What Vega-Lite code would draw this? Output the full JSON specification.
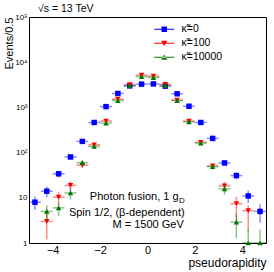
{
  "$schema": "https://vega.github.io/schema/vega-lite/v6.json",
  "width": 237,
  "height": 226,
  "autosize": {"type": "none"},
  "padding": {"left": 29, "top": 17, "right": 8, "bottom": 29},
  "config": {
    "font": "Liberation Sans",
    "view": {"stroke": null},
    "axis": {"domainColor": "#000", "tickColor": "#000", "labelColor": "#000", "titleColor": "#000", "grid": false, "titleFontWeight": "normal", "labelFont": "Liberation Sans", "titleFont": "Liberation Sans", "tickSize": 0, "domainWidth": 1, "tickWidth": 1}
  },
  "data": {"values": [
    {"s": "κ̃=0", "eta": -4.75, "xlo": -5.0, "xhi": -4.5, "v": 8, "lo": 5.4, "hi": 10.8},
    {"s": "κ̃=0", "eta": -4.25, "xlo": -4.5, "xhi": -4.0, "v": 14, "lo": 10.3, "hi": 17.7},
    {"s": "κ̃=0", "eta": -3.75, "xlo": -4.0, "xhi": -3.5, "v": 34, "lo": 28.2, "hi": 39.8},
    {"s": "κ̃=0", "eta": -3.25, "xlo": -3.5, "xhi": -3.0, "v": 80, "lo": 71, "hi": 89},
    {"s": "κ̃=0", "eta": -2.75, "xlo": -3.0, "xhi": -2.5, "v": 177, "lo": 164, "hi": 190},
    {"s": "κ̃=0", "eta": -2.25, "xlo": -2.5, "xhi": -2.0, "v": 464, "lo": 442, "hi": 486},
    {"s": "κ̃=0", "eta": -1.75, "xlo": -2.0, "xhi": -1.5, "v": 1040, "lo": 1008, "hi": 1072},
    {"s": "κ̃=0", "eta": -1.25, "xlo": -1.5, "xhi": -1.0, "v": 2030, "lo": 1985, "hi": 2075},
    {"s": "κ̃=0", "eta": -0.75, "xlo": -1.0, "xhi": -0.5, "v": 3000, "lo": 2945, "hi": 3055},
    {"s": "κ̃=0", "eta": -0.25, "xlo": -0.5, "xhi": 0.0, "v": 3270, "lo": 3213, "hi": 3327},
    {"s": "κ̃=0", "eta": 0.25, "xlo": 0.0, "xhi": 0.5, "v": 3310, "lo": 3252, "hi": 3368},
    {"s": "κ̃=0", "eta": 0.75, "xlo": 0.5, "xhi": 1.0, "v": 2950, "lo": 2896, "hi": 3004},
    {"s": "κ̃=0", "eta": 1.25, "xlo": 1.0, "xhi": 1.5, "v": 2000, "lo": 1955, "hi": 2045},
    {"s": "κ̃=0", "eta": 1.75, "xlo": 1.5, "xhi": 2.0, "v": 1060, "lo": 1027, "hi": 1093},
    {"s": "κ̃=0", "eta": 2.25, "xlo": 2.0, "xhi": 2.5, "v": 464, "lo": 442, "hi": 486},
    {"s": "κ̃=0", "eta": 2.75, "xlo": 2.5, "xhi": 3.0, "v": 206, "lo": 192, "hi": 220},
    {"s": "κ̃=0", "eta": 3.25, "xlo": 3.0, "xhi": 3.5, "v": 59, "lo": 51.3, "hi": 66.7},
    {"s": "κ̃=0", "eta": 3.75, "xlo": 3.5, "xhi": 4.0, "v": 31, "lo": 25.4, "hi": 36.6},
    {"s": "κ̃=0", "eta": 4.25, "xlo": 4.0, "xhi": 4.5, "v": 11, "lo": 7.7, "hi": 14.3},
    {"s": "κ̃=0", "eta": 4.75, "xlo": 4.5, "xhi": 5.0, "v": 5, "lo": 2.8, "hi": 7.2},
    {"s": "κ̃=100", "eta": -4.25, "xlo": -4.5, "xhi": -4.0, "v": 3, "lo": 1.2, "hi": 4.7},
    {"s": "κ̃=100", "eta": -3.75, "xlo": -4.0, "xhi": -3.5, "v": 10.3, "lo": 7, "hi": 13.5},
    {"s": "κ̃=100", "eta": -3.25, "xlo": -3.5, "xhi": -3.0, "v": 18.8, "lo": 14.5, "hi": 23},
    {"s": "κ̃=100", "eta": -2.75, "xlo": -3.0, "xhi": -2.5, "v": 53, "lo": 45.7, "hi": 60.3},
    {"s": "κ̃=100", "eta": -2.25, "xlo": -2.5, "xhi": -2.0, "v": 149, "lo": 137, "hi": 161},
    {"s": "κ̃=100", "eta": -1.75, "xlo": -2.0, "xhi": -1.5, "v": 498, "lo": 476, "hi": 520},
    {"s": "κ̃=100", "eta": -1.25, "xlo": -1.5, "xhi": -1.0, "v": 1516, "lo": 1477, "hi": 1555},
    {"s": "κ̃=100", "eta": -0.75, "xlo": -1.0, "xhi": -0.5, "v": 3200, "lo": 3143, "hi": 3257},
    {"s": "κ̃=100", "eta": -0.25, "xlo": -0.5, "xhi": 0.0, "v": 5160, "lo": 5088, "hi": 5232},
    {"s": "κ̃=100", "eta": 0.25, "xlo": 0.0, "xhi": 0.5, "v": 4900, "lo": 4830, "hi": 4970},
    {"s": "κ̃=100", "eta": 0.75, "xlo": 0.5, "xhi": 1.0, "v": 3250, "lo": 3193, "hi": 3307},
    {"s": "κ̃=100", "eta": 1.25, "xlo": 1.0, "xhi": 1.5, "v": 1450, "lo": 1412, "hi": 1488},
    {"s": "κ̃=100", "eta": 1.75, "xlo": 1.5, "xhi": 2.0, "v": 498, "lo": 476, "hi": 520},
    {"s": "κ̃=100", "eta": 2.25, "xlo": 2.0, "xhi": 2.5, "v": 168, "lo": 155, "hi": 181},
    {"s": "κ̃=100", "eta": 2.75, "xlo": 2.5, "xhi": 3.0, "v": 50.6, "lo": 43.5, "hi": 57.7},
    {"s": "κ̃=100", "eta": 3.25, "xlo": 3.0, "xhi": 3.5, "v": 18.3, "lo": 14, "hi": 22.6},
    {"s": "κ̃=100", "eta": 3.75, "xlo": 3.5, "xhi": 4.0, "v": 7.4, "lo": 3.2, "hi": 10.5},
    {"s": "κ̃=100", "eta": 4.25, "xlo": 4.0, "xhi": 4.5, "v": 5.2, "lo": 1.8, "hi": 6.8},
    {"s": "κ̃=10000", "eta": -4.25, "xlo": -4.5, "xhi": -4.0, "v": 5, "lo": 3.0, "hi": 6.8},
    {"s": "κ̃=10000", "eta": -3.75, "xlo": -4.0, "xhi": -3.5, "v": 6, "lo": 3.9, "hi": 7.9},
    {"s": "κ̃=10000", "eta": -3.25, "xlo": -3.5, "xhi": -3.0, "v": 12.8, "lo": 9.2, "hi": 16.4},
    {"s": "κ̃=10000", "eta": -2.75, "xlo": -3.0, "xhi": -2.5, "v": 60, "lo": 52, "hi": 68},
    {"s": "κ̃=10000", "eta": -2.25, "xlo": -2.5, "xhi": -2.0, "v": 137, "lo": 125, "hi": 149},
    {"s": "κ̃=10000", "eta": -1.75, "xlo": -2.0, "xhi": -1.5, "v": 450, "lo": 429, "hi": 471},
    {"s": "κ̃=10000", "eta": -1.25, "xlo": -1.5, "xhi": -1.0, "v": 1420, "lo": 1382, "hi": 1458},
    {"s": "κ̃=10000", "eta": -0.75, "xlo": -1.0, "xhi": -0.5, "v": 3000, "lo": 2945, "hi": 3055},
    {"s": "κ̃=10000", "eta": -0.25, "xlo": -0.5, "xhi": 0.0, "v": 4800, "lo": 4731, "hi": 4869},
    {"s": "κ̃=10000", "eta": 0.25, "xlo": 0.0, "xhi": 0.5, "v": 4570, "lo": 4502, "hi": 4638},
    {"s": "κ̃=10000", "eta": 0.75, "xlo": 0.5, "xhi": 1.0, "v": 3050, "lo": 2995, "hi": 3105},
    {"s": "κ̃=10000", "eta": 1.25, "xlo": 1.0, "xhi": 1.5, "v": 1420, "lo": 1382, "hi": 1458},
    {"s": "κ̃=10000", "eta": 1.75, "xlo": 1.5, "xhi": 2.0, "v": 480, "lo": 458, "hi": 502},
    {"s": "κ̃=10000", "eta": 2.25, "xlo": 2.0, "xhi": 2.5, "v": 163, "lo": 150, "hi": 176},
    {"s": "κ̃=10000", "eta": 2.75, "xlo": 2.5, "xhi": 3.0, "v": 49, "lo": 42, "hi": 56},
    {"s": "κ̃=10000", "eta": 3.25, "xlo": 3.0, "xhi": 3.5, "v": 15.7, "lo": 11.7, "hi": 19.7},
    {"s": "κ̃=10000", "eta": 3.75, "xlo": 3.5, "xhi": 4.0, "v": 2.9, "lo": 1.3, "hi": 4.4},
    {"s": "κ̃=10000", "eta": 4.25, "xlo": 4.0, "xhi": 4.5, "v": 1, "lo": 1, "hi": 2},
    {"s": "κ̃=10000", "eta": 4.75, "xlo": 4.5, "xhi": 5.0, "v": 1, "lo": 1, "hi": 2}
  ]},
  "layer": [
    {
      "transform": [{"filter": {"field": "s", "equal": "κ̃=0"}}],
      "mark": {"type": "rule", "strokeWidth": 1.5, "opacity": 0.45, "clip": true, "color": "#0000ff"},
      "encoding": {
        "x": {"field": "eta", "type": "quantitative", "scale": {"domain": [-5, 5], "nice": false, "zero": false},
          "axis": {"orient": "bottom", "values": [-4, -2, 0, 2, 4], "labelFontSize": 11, "labelPadding": 1, "title": "pseudorapidity", "titleFontSize": 12, "titleAlign": "right", "titleAnchor": "end", "titleX": 237, "titleY": 23, "titleBaseline": "alphabetic",
            "encode": {"ticks": {"y2": {"value": -6}}}}},
        "y": {"field": "lo", "type": "quantitative", "scale": {"type": "log", "domain": [1, 100000], "nice": false},
          "axis": {"orient": "left", "values": [1,2,3,4,5,6,7,8,9,10,20,30,40,50,60,70,80,90,100,200,300,400,500,600,700,800,900,1000,2000,3000,4000,5000,6000,7000,8000,9000,10000,20000,30000,40000,50000,60000,70000,80000,90000,100000],
            "labelExpr": "datum.value == 1 ? '1' : datum.value == 10 ? '10' : datum.value == 100 ? '10²' : datum.value == 1000 ? '10³' : datum.value == 10000 ? '10⁴' : datum.value == 100000 ? '10⁵' : ''",
            "labelFontSize": 8, "labelPadding": 2, "labelOverlap": false, "labelFlush": false,
            "title": "Events/0.5", "titleFontSize": 11, "titleAnchor": "end", "titlePadding": 0,
            "encode": {"ticks": {"x2": {"value": {"expr": "indexof([1,10,100,1000,10000,100000], datum.value) >= 0 ? 6 : 3"}}}}}},
        "y2": {"field": "hi"}
      }
    },
    {
      "transform": [{"filter": {"field": "s", "equal": "κ̃=0"}}],
      "mark": {"type": "rule", "strokeWidth": 1.5, "opacity": 0.45, "clip": true, "color": "#0000ff"},
      "encoding": {
        "x": {"field": "xlo", "type": "quantitative", "scale": {"domain": [-5, 5], "nice": false, "zero": false},
          "axis": {"orient": "top", "values": [-4, -2, 0, 2, 4], "labels": false, "title": null,
            "encode": {"ticks": {"y2": {"value": 6}}}}},
        "x2": {"field": "xhi"},
        "y": {"field": "v", "type": "quantitative", "scale": {"type": "log", "domain": [1, 100000], "nice": false},
          "axis": {"orient": "right", "values": [1,2,3,4,5,6,7,8,9,10,20,30,40,50,60,70,80,90,100,200,300,400,500,600,700,800,900,1000,2000,3000,4000,5000,6000,7000,8000,9000,10000,20000,30000,40000,50000,60000,70000,80000,90000,100000],
            "labels": false, "title": null,
            "encode": {"ticks": {"x2": {"value": {"expr": "indexof([1,10,100,1000,10000,100000], datum.value) >= 0 ? -6 : -3"}}}}}}
      }
    },
    {
      "transform": [{"filter": {"field": "s", "equal": "κ̃=0"}}],
      "mark": {"type": "point", "filled": true, "size": 30, "opacity": 1, "shape": "square", "color": "#0000ff"},
      "encoding": {
        "x": {"field": "eta", "type": "quantitative", "axis": null},
        "y": {"field": "v", "type": "quantitative", "axis": null}
      }
    },
    {
      "transform": [{"filter": {"field": "s", "equal": "κ̃=100"}}],
      "mark": {"type": "rule", "strokeWidth": 1.5, "opacity": 0.45, "clip": true, "color": "#ff0000"},
      "encoding": {
        "x": {"field": "eta", "type": "quantitative", "axis": null},
        "y": {"field": "lo", "type": "quantitative", "axis": null},
        "y2": {"field": "hi"}
      }
    },
    {
      "transform": [{"filter": {"field": "s", "equal": "κ̃=100"}}],
      "mark": {"type": "rule", "strokeWidth": 1.5, "opacity": 0.45, "clip": true, "color": "#ff0000"},
      "encoding": {
        "x": {"field": "xlo", "type": "quantitative", "axis": null},
        "x2": {"field": "xhi"},
        "y": {"field": "v", "type": "quantitative", "axis": null}
      }
    },
    {
      "transform": [{"filter": {"field": "s", "equal": "κ̃=100"}}],
      "mark": {"type": "point", "filled": true, "size": 30, "opacity": 1, "shape": "triangle-down", "color": "#ff0000"},
      "encoding": {
        "x": {"field": "eta", "type": "quantitative", "axis": null},
        "y": {"field": "v", "type": "quantitative", "axis": null}
      }
    },
    {
      "transform": [{"filter": {"field": "s", "equal": "κ̃=10000"}}],
      "mark": {"type": "rule", "strokeWidth": 1.5, "opacity": 0.45, "clip": true, "color": "#007700"},
      "encoding": {
        "x": {"field": "eta", "type": "quantitative", "axis": null},
        "y": {"field": "lo", "type": "quantitative", "axis": null},
        "y2": {"field": "hi"}
      }
    },
    {
      "transform": [{"filter": {"field": "s", "equal": "κ̃=10000"}}],
      "mark": {"type": "rule", "strokeWidth": 1.5, "opacity": 0.45, "clip": true, "color": "#007700"},
      "encoding": {
        "x": {"field": "xlo", "type": "quantitative", "axis": null},
        "x2": {"field": "xhi"},
        "y": {"field": "v", "type": "quantitative", "axis": null}
      }
    },
    {
      "transform": [{"filter": {"field": "s", "equal": "κ̃=10000"}}],
      "mark": {"type": "point", "filled": true, "size": 30, "opacity": 1, "shape": "triangle-up", "color": "#007700"},
      "encoding": {
        "x": {"field": "eta", "type": "quantitative", "axis": null},
        "y": {"field": "v", "type": "quantitative", "axis": null}
      }
    },
    {
      "mark": {"type": "point", "filled": true, "size": 30, "opacity": 0},
      "encoding": {
        "x": {"field": "eta", "type": "quantitative", "axis": null},
        "y": {"field": "v", "type": "quantitative", "axis": null},
        "color": {"field": "s", "type": "nominal", "scale": {"domain": ["κ̃=0", "κ̃=100", "κ̃=10000"], "range": ["#0000ff", "#ff0000", "#007700"]},
          "legend": {"title": null, "orient": "none", "legendX": 130, "legendY": 7, "labelFontSize": 10.5, "labelOffset": 12, "symbolSize": 31, "rowPadding": 3, "padding": 0, "labelColor": "#000", "labelFont": "Liberation Sans", "symbolOpacity": 1, "symbolStrokeWidth": 0}},
        "shape": {"field": "s", "type": "nominal", "scale": {"domain": ["κ̃=0", "κ̃=100", "κ̃=10000"], "range": ["M-3.6,-0.2H3.6V0.2H-3.6ZM-1,-1H1V1H-1Z", "M-3.6,-0.2H3.6V0.2H-3.6ZM-1.1,-0.9H1.1L0,1Z", "M-3.6,-0.2H3.6V0.2H-3.6ZM-1.1,0.9H1.1L0,-1Z"]},
          "legend": {"title": null, "orient": "none", "legendX": 130, "legendY": 7, "labelFontSize": 10.5, "labelOffset": 12, "symbolSize": 31, "rowPadding": 3, "padding": 0, "labelColor": "#000", "labelFont": "Liberation Sans", "symbolOpacity": 1, "symbolStrokeWidth": 0}}
      }
    },
    {
      "data": {"values": [{}]},
      "mark": {"type": "text", "text": "√s = 13 TeV", "align": "left", "baseline": "alphabetic", "fontSize": 10.5, "color": "#000"},
      "encoding": {
        "x": {"datum": -4.62, "type": "quantitative", "axis": null},
        "y": {"datum": 125800, "type": "quantitative", "axis": null}
      }
    },
    {
      "data": {"values": [{}]},
      "mark": {"type": "text", "text": "Photon fusion, 1 g", "align": "right", "baseline": "middle", "fontSize": 11, "color": "#000"},
      "encoding": {
        "x": {"datum": 1.31, "type": "quantitative", "axis": null},
        "y": {"datum": 10.6, "type": "quantitative", "axis": null}
      }
    },
    {
      "data": {"values": [{}]},
      "mark": {"type": "text", "text": "D", "align": "left", "baseline": "middle", "fontSize": 8, "dy": 4, "dx": 0.5, "color": "#000"},
      "encoding": {
        "x": {"datum": 1.31, "type": "quantitative", "axis": null},
        "y": {"datum": 10.6, "type": "quantitative", "axis": null}
      }
    },
    {
      "data": {"values": [{}]},
      "mark": {"type": "text", "text": "Spin 1/2, (β-dependent)", "align": "right", "baseline": "middle", "fontSize": 11, "color": "#000"},
      "encoding": {
        "x": {"datum": 1.57, "type": "quantitative", "axis": null},
        "y": {"datum": 4.55, "type": "quantitative", "axis": null}
      }
    },
    {
      "data": {"values": [{}]},
      "mark": {"type": "text", "text": "M = 1500 GeV", "align": "right", "baseline": "middle", "fontSize": 11, "color": "#000"},
      "encoding": {
        "x": {"datum": 1.53, "type": "quantitative", "axis": null},
        "y": {"datum": 2.52, "type": "quantitative", "axis": null}
      }
    }
  ],
  "resolve": {"axis": {"x": "independent", "y": "independent"}}
}
